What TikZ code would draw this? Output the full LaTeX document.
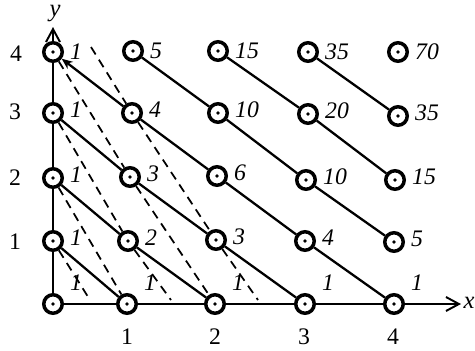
\documentclass[tikz,border=0pt]{standalone}
\usepackage{fontspec}
\setmainfont{Liberation Serif}
\usetikzlibrary{arrows.meta}

\begin{document}
\begin{tikzpicture}[
    x=0.2mm, y=-0.2mm,
    point/.style={circle, draw, line width=2pt, fill=white, minimum size=3.7mm, inner sep=0pt,
      path picture={\fill[black] (path picture bounding box.center) circle (1pt);}},
    lbl/.style={font=\fontsize{13.5}{15}\selectfont\itshape, yshift=2pt},
    tick/.style={font=\fontsize{13.5}{15}\selectfont},
    axislbl/.style={font=\fontsize{14}{15}\selectfont\itshape},
    edge/.style={line width=1.3pt},
    aux/.style={line width=1pt, dash pattern=on 5pt off 3.5pt},
    barb/.style={-{Straight Barb[length=2.6mm, width=2.8mm, line width=1.1pt]}}
  ]
  \useasboundingbox (0,0) rectangle (475,351);

  % row 0
  \node[point, label={[lbl, yshift=10pt]right:1}] (p00) at (53,304)  {};
  \node[point, label={[lbl, yshift=10pt]right:1}] (p10) at (127,304) {};
  \node[point, label={[lbl, yshift=10pt]right:1}] (p20) at (215,304) {};
  \node[point, label={[lbl, yshift=10pt]right:1}] (p30) at (305,304) {};
  \node[point, label={[lbl, yshift=10pt]right:1}] (p40) at (394,304) {};
  % row 1
  \node[point, label={[lbl]right:1}]  (p01) at (53,241)  {};
  \node[point, label={[lbl]right:2}]  (p11) at (128,241) {};
  \node[point, label={[lbl]right:3}]  (p21) at (216,240) {};
  \node[point, label={[lbl]right:4}]  (p31) at (305,241) {};
  \node[point, label={[lbl]right:5}]  (p41) at (394,242) {};
  % row 2
  \node[point, label={[lbl]right:1}]  (p02) at (53,178)  {};
  \node[point, label={[lbl]right:3}]  (p12) at (130,177) {};
  \node[point, label={[lbl]right:6}]  (p22) at (217,176) {};
  \node[point, label={[lbl]right:10}] (p32) at (306,180) {};
  \node[point, label={[lbl]right:15}] (p42) at (395,180) {};
  % row 3
  \node[point, label={[lbl]right:1}]  (p03) at (53,113)  {};
  \node[point, label={[lbl]right:4}]  (p13) at (132,113) {};
  \node[point, label={[lbl]right:10}] (p23) at (218,113) {};
  \node[point, label={[lbl]right:20}] (p33) at (308,114) {};
  \node[point, label={[lbl]right:35}] (p43) at (398,116) {};
  % row 4
  \node[point, label={[lbl, yshift=-2pt]right:1}]  (p04) at (53,52)  {};
  \node[point, label={[lbl, yshift=-2pt]right:5}]  (p14) at (133,51) {};
  \node[point, label={[lbl, yshift=-2pt]right:15}] (p24) at (218,51) {};
  \node[point, label={[lbl, yshift=-2pt]right:35}] (p34) at (308,52) {};
  \node[point, label={[lbl, yshift=-2pt]right:70}] (p44) at (398,52) {};

  % axes
  \coordinate (xend) at (461,304);
  \coordinate (yend) at (53,27);
  \draw[edge, barb] (p00) -- (p01) -- (p02) -- (p03) -- (p04) -- (yend);
  \draw[edge, barb] (p00) -- (p10) -- (p20) -- (p30) -- (p40) -- (xend);
  \node[axislbl] (ylab) at (55,14)  {y};
  \node[axislbl] (xlab) at (469,303) {x};

  \node[tick] (ty1) at (15,242) {1};
  \node[tick] (ty2) at (15,178) {2};
  \node[tick] (ty3) at (15,112) {3};
  \node[tick] (ty4) at (16,54)  {4};
  \node[tick] (tx1) at (127,337) {1};
  \node[tick] (tx2) at (215,337) {2};
  \node[tick] (tx3) at (304,337) {3};
  \node[tick] (tx4) at (393,337) {4};

  % solid diagonals
  \draw[edge] (p01) -- (p10);
  \draw[edge] (p02) -- (p11) -- (p20);
  \draw[edge] (p03) -- (p12) -- (p21) -- (p30);
  \draw[edge, {Stealth[length=2.2mm, width=1.8mm]}-] (p04) -- (p13);
  \draw[edge] (p13) -- (p22) -- (p31) -- (p40);
  \draw[edge] (p14) -- (p23) -- (p32) -- (p41);
  \draw[edge] (p24) -- (p33) -- (p42);
  \draw[edge] (p34) -- (p43);

  % dashed lines
  \coordinate (h0) at (90,300);
  \coordinate (h1) at (171,300);
  \coordinate (h2) at (258,300);
  \coordinate (h4) at (91,47);
  \draw[aux] (p01) -- (h0);
  \draw[aux] (p02) -- (p10);
  \draw[aux] (p03) -- (p11) -- (h1);
  \draw[aux] (p04) -- (p12) -- (p20);
  \draw[aux] (h4) -- (p13) -- (p21) -- (h2);
\end{tikzpicture}
\end{document}
